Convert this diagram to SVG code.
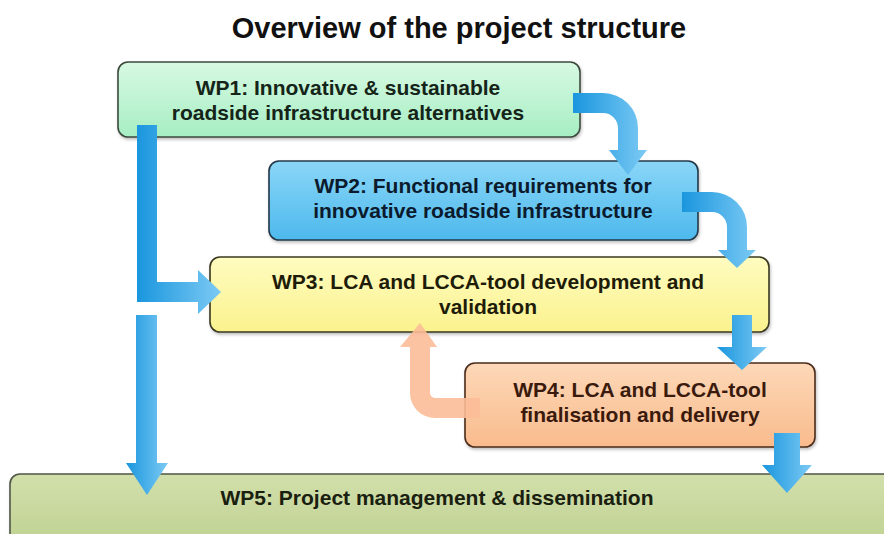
<svg xmlns="http://www.w3.org/2000/svg" width="884" height="534" viewBox="0 0 884 534">
<defs>
<style>
.box{stroke-width:1.6}
.t{font-family:"Liberation Sans",Arial,sans-serif;font-weight:bold;font-size:21px;text-anchor:middle}
.title{font-family:"Liberation Sans",Arial,sans-serif;font-weight:bold;font-size:29px;text-anchor:middle;fill:#111}
.blue{fill:url(#gBlue)}
.orange{fill:#fbbd97;opacity:0.9}
</style>
<linearGradient id="g1" x1="0" y1="0" x2="0" y2="1"><stop offset="0" stop-color="#d8f9e3"/><stop offset="1" stop-color="#a6eec3"/></linearGradient>
<linearGradient id="g2" x1="0" y1="0" x2="0" y2="1"><stop offset="0" stop-color="#8ad6f7"/><stop offset="1" stop-color="#4db9ec"/></linearGradient>
<linearGradient id="g3" x1="0" y1="0" x2="0" y2="1"><stop offset="0" stop-color="#fefcc0"/><stop offset="1" stop-color="#fbf28e"/></linearGradient>
<linearGradient id="g4" x1="0" y1="0" x2="0" y2="1"><stop offset="0" stop-color="#fdd8b8"/><stop offset="1" stop-color="#f9bb8d"/></linearGradient>
<linearGradient id="g5" x1="0" y1="0" x2="0" y2="1"><stop offset="0" stop-color="#d2dfab"/><stop offset="1" stop-color="#bdd08f"/></linearGradient>
<linearGradient id="gBlue" x1="0" y1="0" x2="1" y2="0"><stop offset="0" stop-color="#1a96de"/><stop offset="1" stop-color="#7ccaf4"/></linearGradient>
<filter id="sh" x="-5%" y="-10%" width="110%" height="130%"><feDropShadow dx="1" dy="2" stdDeviation="1.5" flood-color="#000" flood-opacity="0.25"/></filter>
</defs>
<rect width="884" height="534" fill="#ffffff"/>
<text class="title" x="459" y="38">Overview of the project structure</text>

<g id="wp1">
<rect class="box" x="118" y="62" width="462" height="75" rx="10" fill="url(#g1)" stroke="#3c4a3e" filter="url(#sh)"/>
<text class="t" x="348" y="95" fill="#152418">WP1: Innovative &amp; sustainable</text>
<text class="t" x="348" y="120" fill="#152418">roadside infrastructure alternatives</text>
</g>
<g id="wp2">
<rect class="box" x="269" y="161" width="429" height="79" rx="10" fill="url(#g2)" stroke="#24384a" filter="url(#sh)"/>
<text class="t" x="483" y="193" fill="#0b1a2c">WP2: Functional requirements for</text>
<text class="t" x="483" y="218" fill="#0b1a2c">innovative roadside infrastructure</text>
</g>
<g id="wp3">
<rect class="box" x="210" y="257" width="559" height="75" rx="10" fill="url(#g3)" stroke="#3a3820" filter="url(#sh)"/>
<text class="t" x="488" y="289" fill="#1e1c08">WP3: LCA and LCCA-tool development and</text>
<text class="t" x="488" y="314" fill="#1e1c08">validation</text>
</g>
<g id="wp4">
<rect class="box" x="465" y="363" width="350" height="84" rx="10" fill="url(#g4)" stroke="#4a2c1a" filter="url(#sh)"/>
<text class="t" x="640" y="397" fill="#3a1a0c">WP4: LCA and LCCA-tool</text>
<text class="t" x="640" y="422" fill="#3a1a0c">finalisation and delivery</text>
</g>
<g id="wp5">
<rect class="box" x="10" y="474" width="890" height="80" rx="10" fill="url(#g5)" stroke="#505848" filter="url(#sh)"/>
<text class="t" x="437" y="505" fill="#1a2010">WP5: Project management &amp; dissemination</text>
</g>

<g id="connectors">
<path class="blue" d="M573,93 H603 A35,35 0 0 1 638,128 V150 H647 L628,175 L609,150 H618 V128 A15,15 0 0 0 603,113 H573 Z"/>
<path class="blue" d="M682,192 H712 A35,35 0 0 1 747,227 V250 H756 L737,268 L718,250 H727 V227 A15,15 0 0 0 712,212 H682 Z"/>
<path class="blue" d="M137,125 H157 V282 H198 V270 L221,292 L198,314 V302 H137 Z"/>
<path class="blue" d="M136,315 H157 V463 H168 L147,495 L126,463 H136 Z"/>
<path class="blue" d="M732,315 H752 V347 H767 L742,370 L717,347 H732 Z"/>
<path class="blue" d="M774,433 H800 V465 H812 L787,493 L762,465 H774 Z"/>
<path class="orange" d="M480,398 H435 A5,5 0 0 1 430,393 V347 H437 L420,323 L400,347 H410 V393 A25,25 0 0 0 435,418 H480 Z"/>
</g>
</svg>
